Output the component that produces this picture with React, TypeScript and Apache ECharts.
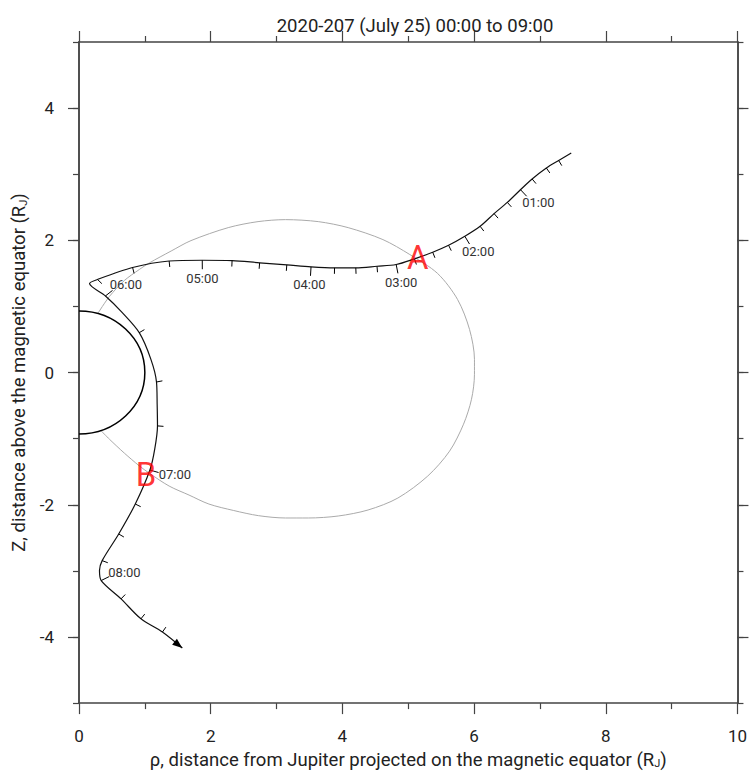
import React, { useEffect, useRef } from 'react';
import * as echarts from 'echarts';

const TITLE = '2020-207 (July 25) 00:00 to 09:00';
const X_NAME = 'ρ, distance from Jupiter projected on the magnetic equator (R{sub|J})';
const Y_NAME = 'Z, distance above the magnetic equator (R{sub|J})';
const yLabelValues = [-4, -2, 0, 2, 4];

// 15-minute marks along the Juno trajectory
const tickTimes = ['00:00','00:15','00:30','00:45','01:00','01:15','01:30','01:45','02:00','02:15','02:30','02:45','03:00','03:15','03:30','03:45','04:00','04:15','04:30','04:45','05:00','05:15','05:30','05:45','06:00','06:15','06:30','06:45','07:00','07:15','07:30','07:45','08:00','08:15','08:30','08:45','09:00'];
const tickRho = [7.476,7.285,7.098,6.882,6.705,6.505,6.304,6.092,5.860,5.613,5.372,5.095,4.817,4.526,4.204,3.881,3.524,3.156,2.743,2.325,1.872,1.369,0.814,0.281,0.402,0.915,1.177,1.192,1.077,0.855,0.603,0.352,0.337,0.639,0.941,1.267,1.569];
const tickZ = [3.320,3.208,3.094,2.928,2.766,2.574,2.404,2.212,2.061,1.925,1.820,1.720,1.634,1.608,1.584,1.584,1.599,1.629,1.660,1.694,1.699,1.687,1.589,1.408,1.159,0.603,-0.143,-0.807,-1.475,-1.989,-2.442,-2.845,-3.146,-3.423,-3.725,-3.925,-4.167];

// trajectory path (marks plus bend points)
const pathRho = [7.476,7.285,7.098,6.882,6.705,6.505,6.304,6.092,5.860,5.613,5.372,5.095,4.817,4.526,4.204,3.881,3.524,3.156,2.743,2.325,1.872,1.369,0.814,0.281,0.160,0.402,0.639,0.915,1.092,1.177,1.187,1.192,1.150,1.077,0.855,0.603,0.352,0.311,0.337,0.639,0.941,1.267,1.569];
const pathZ = [3.320,3.208,3.094,2.928,2.766,2.574,2.404,2.212,2.061,1.925,1.820,1.720,1.634,1.608,1.584,1.584,1.599,1.629,1.660,1.694,1.699,1.687,1.589,1.408,1.346,1.159,0.925,0.603,0.200,-0.143,-0.479,-0.807,-1.158,-1.475,-1.989,-2.442,-2.845,-2.996,-3.146,-3.423,-3.725,-3.925,-4.167];

// magnetic field line (gray)
const fieldRho = [0.29,0.462,0.689,0.915,1.066,1.399,1.701,2.266,2.719,3.136,3.634,4.088,4.616,5.024,5.447,5.749,5.931,6.006,6.006,5.961,5.840,5.628,5.296,4.843,4.390,3.937,3.483,3.136,2.728,2.350,1.973,1.671,1.369,1.066,0.915,0.689,0.462,0.337];
const fieldZ = [0.90,1.151,1.392,1.558,1.657,1.838,1.996,2.192,2.283,2.313,2.283,2.192,2.011,1.785,1.498,1.106,0.653,0.200,-0.026,-0.404,-0.781,-1.189,-1.566,-1.898,-2.079,-2.170,-2.200,-2.200,-2.165,-2.087,-1.989,-1.853,-1.717,-1.521,-1.411,-1.219,-1.008,-0.882];

// Jupiter (equatorial, polar radius)
const jupiterRadii = [1.0, 0.93];

const crossingNames = ['A', 'B'];
const crossingRho = [5.145, 1.017];
const crossingZ = [1.735, -1.536];

const AXIS_COLOR = '#444';
const FONT = 'Roboto';
const NAME_SIZE = 18.5;

const richSub = {
  sub: { fontFamily: FONT, fontSize: 11, color: '#222', verticalAlign: 'bottom', lineHeight: 11, padding: [9, 0, 0, 0] },
};

function buildOption() {
  const n = tickTimes.length;
  const tickData = tickTimes.map((t, i) => [tickRho[i], tickZ[i], i]);

  const renderTick = (params: any, api: any) => {
    const i = api.value(2);
    const p = api.coord([tickRho[i], tickZ[i]]);
    const ia = Math.max(i - 1, 0);
    const ib = Math.min(i + 1, n - 1);
    const a = api.coord([tickRho[ia], tickZ[ia]]);
    const b = api.coord([tickRho[ib], tickZ[ib]]);
    const dx = b[0] - a[0];
    const dy = b[1] - a[1];
    const len = Math.hypot(dx, dy) || 1;
    const ux = dx / len;
    const uy = dy / len;
    const nx = uy;
    const ny = -ux;
    const children: any[] = [];
    if (i === 0) return { type: 'group', children };
    if (i === n - 1) {
      const al = 10, aw = 3.8;
      const bx = p[0] - ux * al, by = p[1] - uy * al;
      children.push({
        type: 'polygon',
        shape: { points: [[p[0], p[1]], [bx + nx * aw, by + ny * aw], [bx - nx * aw, by - ny * aw]] },
        style: { fill: '#000' },
      });
      return { type: 'group', children };
    }
    const major = tickTimes[i].endsWith(':00');
    const L = major ? 9 : 6;
    children.push({
      type: 'line',
      shape: { x1: p[0], y1: p[1], x2: p[0] + nx * L, y2: p[1] + ny * L },
      style: { stroke: '#000', lineWidth: 1 },
    });
    if (major) {
      children.push({
        type: 'text',
        style: {
          text: tickTimes[i],
          x: p[0] + nx * 26,
          y: p[1] + ny * 18,
          fill: '#333',
          fontFamily: FONT,
          fontSize: 13,
          align: 'center',
          verticalAlign: 'middle',
        },
      });
    }
    return { type: 'group', children };
  };

  const renderJupiter = (params: any, api: any) => {
    const c = api.coord([api.value(0), api.value(1)]);
    const s = api.size([jupiterRadii[0], jupiterRadii[1]]);
    const rx = s[0];
    const ry = s[1];
    return {
      type: 'arc',
      x: c[0],
      y: c[1],
      scaleY: ry / rx,
      shape: { cx: 0, cy: 0, r: rx, startAngle: -Math.PI / 2, endAngle: Math.PI / 2, clockwise: true },
      style: { stroke: '#000', fill: 'none', lineWidth: 1.5, strokeNoScale: true },
    };
  };

  const xBase = {
    type: 'value',
    min: 0,
    max: 10,
    interval: 2,
    splitLine: { show: false },
    axisLine: { show: true, onZero: false, lineStyle: { color: AXIS_COLOR, width: 1.5 } },
    axisTick: { show: true, inside: false, length: 11, lineStyle: { color: AXIS_COLOR, width: 1.2 } },
    minorTick: { show: true, splitNumber: 2, length: 6, lineStyle: { color: AXIS_COLOR, width: 1.2 } },
  };

  const yMinor = {
    type: 'value',
    min: -5,
    max: 5,
    interval: 1,
    splitLine: { show: false },
    axisLine: { show: true, onZero: false, lineStyle: { color: AXIS_COLOR, width: 1.5 } },
    axisTick: { show: true, inside: false, length: 6, lineStyle: { color: AXIS_COLOR, width: 1.2 } },
    axisLabel: { show: false },
  };

  const yMajor = {
    type: 'value',
    min: -5,
    max: 5,
    splitLine: { show: false },
    axisLine: { show: true, onZero: false, lineStyle: { color: AXIS_COLOR, width: 1.5 } },
    axisTick: { show: true, inside: false, length: 11, customValues: yLabelValues, lineStyle: { color: AXIS_COLOR, width: 1.2 } },
  };

  return {
    animation: false,
    backgroundColor: '#ffffff',
    title: {
      text: TITLE,
      left: 410,
      top: 11,
      textAlign: 'center',
      textStyle: { fontFamily: FONT, fontSize: NAME_SIZE, fontWeight: 'normal', color: '#222' },
    },
    grid: { left: 79, right: 8, top: 42, bottom: 70 },
    xAxis: [
      {
        ...xBase,
        position: 'bottom',
        axisLabel: { show: true, fontFamily: FONT, fontSize: 17, color: '#222', margin: 24 },
        name: X_NAME,
        nameLocation: 'middle',
        nameGap: 39,
        nameTextStyle: { fontFamily: FONT, fontSize: NAME_SIZE, color: '#222', rich: richSub },
      },
      { ...xBase, position: 'top', axisLabel: { show: false } },
    ],
    yAxis: [
      { ...yMinor, position: 'left' },
      {
        ...yMajor,
        position: 'left',
        axisLabel: { show: true, customValues: yLabelValues, fontFamily: FONT, fontSize: 17, color: '#222', margin: 25 },
        name: Y_NAME,
        nameLocation: 'middle',
        nameGap: 36,
        nameTextStyle: { fontFamily: FONT, fontSize: NAME_SIZE, color: '#222', rich: richSub },
      },
      { ...yMinor, position: 'right' },
      { ...yMajor, position: 'right', axisLabel: { show: false, customValues: yLabelValues } },
    ],
    series: [
      {
        type: 'line',
        name: 'field line',
        data: fieldRho.map((r, i) => [r, fieldZ[i]]),
        showSymbol: false,
        smooth: 0.3,
        lineStyle: { color: '#aaaaaa', width: 1 },
        z: 2,
        silent: true,
      },
      {
        type: 'custom',
        name: 'Jupiter',
        data: [[0, 0]],
        renderItem: renderJupiter,
        z: 3,
        silent: true,
      },
      {
        type: 'line',
        name: 'trajectory',
        data: pathRho.map((r, i) => [r, pathZ[i]]),
        showSymbol: false,
        smooth: 0.3,
        lineStyle: { color: '#111', width: 1.2 },
        z: 4,
        silent: true,
      },
      {
        type: 'custom',
        name: 'time marks',
        data: tickData,
        encode: { x: 0, y: 1 },
        renderItem: renderTick,
        z: 5,
        silent: true,
      },
      {
        type: 'scatter',
        name: 'crossings',
        data: crossingNames.map((nm, i) => ({ name: nm, value: [crossingRho[i], crossingZ[i]] })),
        symbolSize: 1,
        itemStyle: { color: 'transparent' },
        label: {
          show: true,
          position: 'inside',
          formatter: '{b}',
          color: '#ff0000',
          fontFamily: FONT,
          fontSize: 33,
        },
        z: 10,
        silent: true,
      },
    ],
  };
}

export default function App() {
  const ref = useRef<HTMLDivElement>(null);
  useEffect(() => {
    if (!ref.current) return;
    const chart = echarts.init(ref.current, null, { renderer: 'svg' });
    chart.setOption(buildOption() as any);
    return () => chart.dispose();
  }, []);
  return (
    <div
      ref={ref}
      style={{ position: 'absolute', left: 0, top: 0, width: 750, height: 774, background: '#fff' }}
    />
  );
}
